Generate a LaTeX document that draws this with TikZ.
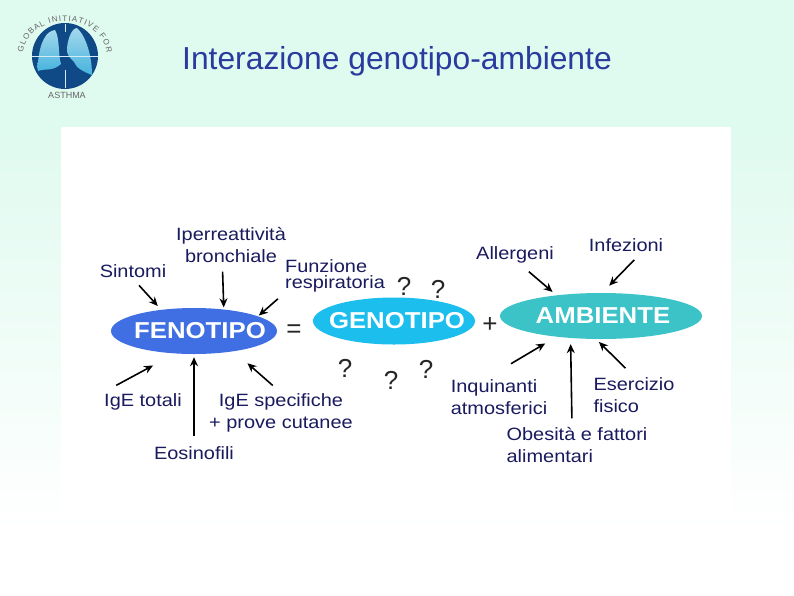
\documentclass[tikz,border=0pt]{standalone}
\usepackage{fontspec}
\setmainfont{Liberation Sans}
\newfontfamily\diagfont[FakeStretch=1.12]{Liberation Sans}
\usetikzlibrary{arrows.meta,shapes.geometric,decorations.text}
\definecolor{inkblue}{HTML}{1A1A5E}
\definecolor{titleblue}{HTML}{2B3A9E}
\definecolor{mint}{HTML}{DFFAEF}
\definecolor{fenoblue}{HTML}{3F6FE3}
\definecolor{genocyan}{HTML}{1CBEEE}
\definecolor{ambteal}{HTML}{3CC3C8}
\definecolor{lungnavy}{HTML}{0F4A86}
\definecolor{lungpale}{HTML}{A4D8EC}
\definecolor{lungsky}{HTML}{45B3DD}
\begin{document}
\begin{tikzpicture}[x=1pt,y=-1pt,
  lab/.style={font=\diagfont\fontsize{17.8}{21.5}\selectfont, text=inkblue, align=left, inner sep=1pt},
  blob/.style={ellipse, inner ysep=0pt, inner xsep=-20pt, text=white, font=\diagfont\fontsize{23}{26}\selectfont\bfseries},
  qmark/.style={font=\fontsize{26}{28}\selectfont, text=black!85, inner sep=0pt},
  lung/.style={top color=lungpale, bottom color=lungsky},
  arr/.style={-{Stealth[length=9pt,width=8pt]}, line width=1.6pt, color=black}]
% background and panel
\useasboundingbox (0,0) rectangle (794,595);
\fill[white] (0,0) rectangle (794,595);
\fill[mint] (0,0) rectangle (794,127);
\shade[top color=mint, bottom color=white] (0,127) rectangle (794,530);
\fill[white] (61,127) rectangle (731,520);
% logo
\fill[lungnavy] (65,56) circle (33);
\shade[lung] (38,62) .. controls (40,42) and (46,31) .. (55,30) .. controls (60,38) and (58,55) .. (61,64) .. controls (52,72) and (46,68) .. (38,71) .. controls (37,68) and (37,66) .. (38,62) -- cycle;
\shade[lung] (67,48) .. controls (68,38) and (72,28) .. (77,28) .. controls (86,36) and (92,56) .. (92,75) .. controls (84,72) and (76,68) .. (74,62) .. controls (70,58) and (66,54) .. (67,48) -- cycle;
\draw[white!75!lungsky, line width=.5pt] (32,56) -- (98,56);
\draw[white!75!lungsky, line width=.4pt] (65,24) -- (65,32) (65,70) -- (65,88);
\path[decorate, decoration={text along path, text align={fit to path}, text={|\fontsize{8}{9}\selectfont\color{black!60}|GLOBAL INITIATIVE FOR}}] (23,53) arc[start angle=-175, end angle=-5, x radius=42, y radius=35];
\node[font=\fontsize{9}{10}\selectfont, text=black!60, inner sep=0pt] (asma) at (67,95) {ASTHMA};
\node[font=\fontsize{31.8}{34}\selectfont, text=titleblue, inner sep=0pt] (titolo) at (397,61) {Interazione genotipo-ambiente};
% the three ellipses
\node[blob, fill=fenoblue, minimum width=166, minimum height=46] (feno) at (194,331) {\hspace*{12pt}FENOTIPO};
\node[blob, fill=genocyan, minimum width=162, minimum height=47] (geno) at (394,321) {\hspace*{6pt}GENOTIPO};
\node[blob, fill=ambteal, minimum width=202, minimum height=46] (amb) at (601,316) {\hspace*{4pt}\raisebox{-1.5pt}{AMBIENTE}};
\node[qmark] (uguale) at (294,331) {=};
\node[qmark] (piu) at (490,325) {+};
\node[qmark] (q1) at (404,286) {?};
\node[qmark] (q2) at (438,289) {?};
\node[qmark] (q3) at (345,368) {?};
\node[qmark] (q4) at (391,380) {?};
\node[qmark] (q5) at (426,369) {?};
% labels
\node[lab] (sintomi) at (133,271) {Sintomi};
\node[lab, align=center] (iper) at (231,245) {Iperreattività\\ bronchiale};
\node[lab, font=\diagfont\fontsize{17.8}{16}\selectfont] (funz) at (335,276) {Funzione\\ respiratoria};
\node[lab] (totali) at (143,402) {IgE totali};
\node[lab, align=center] (spec) at (281,413) {IgE specifiche\\ + prove cutanee};
\node[lab] (eos) at (194,453) {Eosinofili};
\node[lab] (allerg) at (515,255) {Allergeni};
\node[lab] (infez) at (626,245) {Infezioni};
\node[lab] (inq) at (499,397) {Inquinanti\\ atmosferici};
\node[lab] (eserc) at (634,395) {Esercizio\\ fisico};
\node[lab] (obes) at (577,445) {Obesità e fattori\\ alimentari};
% arrows
\draw[arr, shorten <=9pt, shorten >=5pt] (sintomi.south) -- (feno.147);
\draw[arr, shorten <=8pt, shorten >=2pt] (iper.245) -- (feno.36);
\draw[arr, shorten <=8pt, shorten >=1pt] (funz.south west) -- (feno.13);
\draw[arr, shorten <=15pt, shorten >=25pt] (totali.north west) -- (feno.230);
\draw[arr, shorten <=9pt, shorten >=3pt] (eos.north) -- (feno.south);
\draw[arr, shorten <=11pt, shorten >=18pt] (spec.north) -- (feno.333);
\draw[arr, shorten <=11pt, shorten >=5pt] (allerg.300) -- (amb.155);
\draw[arr, shorten <=10pt, shorten >=10pt] (infez.333) -- (amb.87);
\draw[arr, shorten <=29pt, shorten >=13pt] (inq.125) -- (amb.205);
\draw[arr, shorten <=8pt, shorten >=6pt] (obes.105) -- (amb.216);
\draw[arr, shorten <=12pt, shorten >=4pt] (eserc.north) -- (amb.258);
\end{tikzpicture}
\end{document}
